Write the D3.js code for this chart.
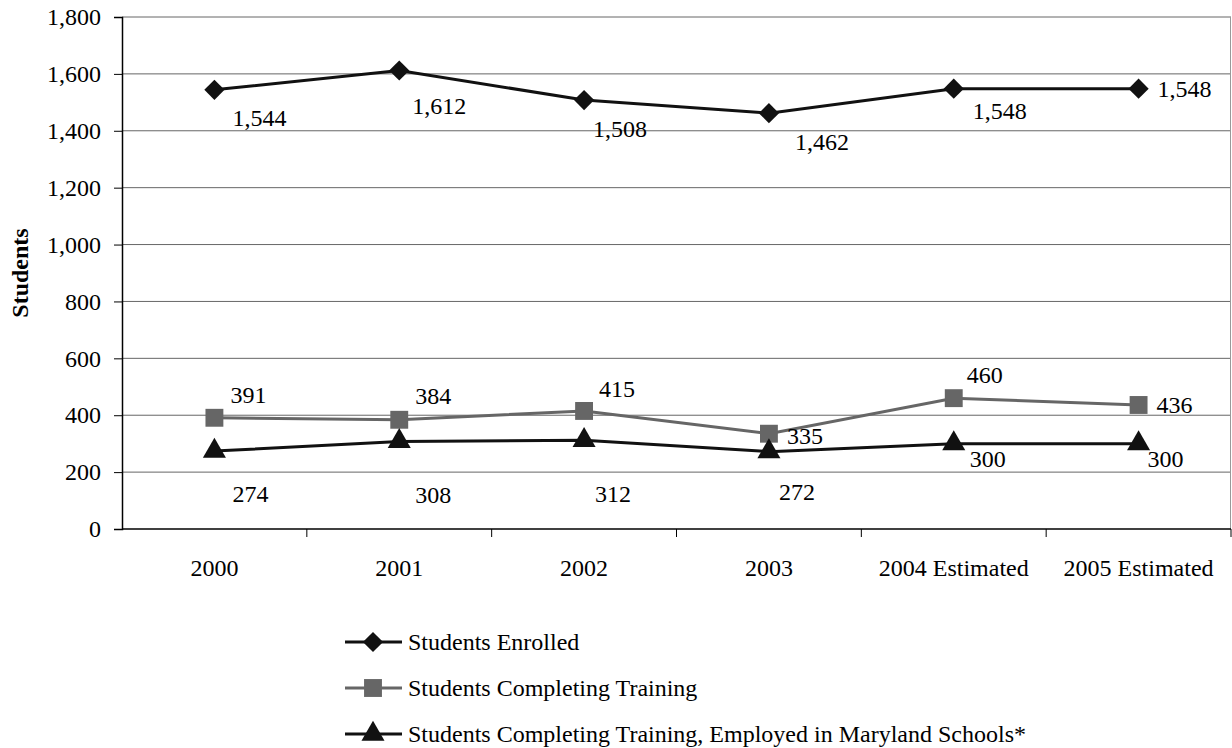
<!DOCTYPE html>
<html>
<head>
<meta charset="utf-8">
<script src="https://cdn.jsdelivr.net/npm/d3@7"></script>
<style>
  body { margin: 0; background: #fff; }
  svg { display: block; font-family: "Liberation Serif", "Times New Roman", serif; }
</style>
</head>
<body>
<div id="chart"></div>
<script>
// chart data
var years = ["2000", "2001", "2002", "2003", "2004 Estimated", "2005 Estimated"];
var enrolled = [1544, 1612, 1508, 1462, 1548, 1548];
var completing = [391, 384, 415, 335, 460, 436];
var employed = [274, 308, 312, 272, 300, 300];
var yTicks = [0, 200, 400, 600, 800, 1000, 1200, 1400, 1600, 1800];
var seriesNames = ["Students Enrolled", "Students Completing Training",
    "Students Completing Training, Employed in Maryland Schools*"];

// where each data label sits relative to its point (label centre)
var enrolledLabelPos = [[45, 28], [40, 35], [36, 29], [53, 28], [46, 22], [46, 0]];
var completingLabelPos = [[34, -23], [34, -24], [33, -22], [36, 2], [31, -24], [36, 0]];
var employedLabelPos = [[36, 43], [34, 53], [29, 53], [28, 40], [34, 15], [27, 15]];

var width = 1232, height = 748,
    margins = {top: 17, left: 122, right: 1, bottom: 219},
    serif = "Liberation Serif, Times New Roman, serif";

var svg = d3.select("#chart").append("svg")
    .attr("width", width)
    .attr("height", height);

var x = d3.scaleBand().domain(years).range([margins.left, width - margins.right]).padding(0);
var y = d3.scaleLinear().domain([0, 1800]).range([height - margins.bottom, margins.top]);

function cx(i) { return x(years[i]) + x.bandwidth() / 2; }

// gridlines
svg.append("g").attr("class", "grid")
    .selectAll("line")
    .data(yTicks.filter(function (d) { return d > 0; }))
    .enter().append("line")
    .attr("x1", margins.left).attr("x2", width - margins.right)
    .attr("y1", function (d) { return y(d); })
    .attr("y2", function (d) { return y(d); })
    .attr("stroke", "#666")
    .attr("stroke-width", 1);

svg.append("line")
    .attr("x1", width - margins.right - 0.5).attr("x2", width - margins.right - 0.5)
    .attr("y1", y(1800)).attr("y2", y(0))
    .attr("stroke", "#999");

// axes
var yAxis = d3.axisLeft(y).tickValues(yTicks).tickSize(8).tickPadding(13)
    .tickFormat(d3.format(","));
var yG = svg.append("g")
    .attr("transform", "translate(" + margins.left + ",0)")
    .call(yAxis);
yG.select(".domain").attr("stroke", "#000").attr("stroke-width", 1.5);
yG.selectAll(".tick line").attr("stroke", "#000");
yG.selectAll("text").attr("font-size", 24).attr("fill", "#000")
    .attr("font-family", serif);

var xAxis = d3.axisBottom(x).tickSize(0).tickPadding(30);
var xG = svg.append("g")
    .attr("transform", "translate(0," + y(0) + ")")
    .call(xAxis);
xG.select(".domain").remove();
xG.selectAll("text").attr("font-size", 24).attr("fill", "#000")
    .attr("font-family", serif);

svg.append("line")
    .attr("x1", margins.left).attr("x2", width - margins.right)
    .attr("y1", y(0)).attr("y2", y(0))
    .attr("stroke", "#000").attr("stroke-width", 1.5);

// category separator ticks
svg.append("g").selectAll("line")
    .data(years)
    .enter().append("line")
    .attr("x1", function (d) { return x(d) + x.bandwidth(); })
    .attr("x2", function (d) { return x(d) + x.bandwidth(); })
    .attr("y1", y(0)).attr("y2", y(0) + 8)
    .attr("stroke", "#000");

svg.append("text")
    .attr("transform", "translate(20," + (y(900)) + ") rotate(-90)")
    .attr("text-anchor", "middle")
    .attr("dy", "0.35em")
    .attr("font-size", 24)
    .attr("font-weight", "bold")
    .text("Students");

// marker shapes
var diamond = d3.symbol().type(d3.symbolDiamond2).size(260);
var square = d3.symbol().type(d3.symbolSquare).size(320);
var triangle = d3.symbol().type(d3.symbolTriangle).size(230);

var series = [
    {values: enrolled, color: "#111", symbol: diamond, labels: enrolledLabelPos},
    {values: completing, color: "#666", symbol: square, labels: completingLabelPos},
    {values: employed, color: "#111", symbol: triangle, labels: employedLabelPos}
];

var line = d3.line()
    .x(function (d, i) { return cx(i); })
    .y(function (d) { return y(d); });

series.forEach(function (s) {
    var g = svg.append("g");
    g.append("path")
        .attr("d", line(s.values))
        .attr("fill", "none")
        .attr("stroke", s.color)
        .attr("stroke-width", 3);
    g.selectAll("path.marker")
        .data(s.values)
        .enter().append("path")
        .attr("class", "marker")
        .attr("d", s.symbol)
        .attr("transform", function (d, i) { return "translate(" + cx(i) + "," + y(d) + ")"; })
        .attr("fill", s.color);
    g.selectAll("text")
        .data(s.values)
        .enter().append("text")
        .attr("x", function (d, i) { return cx(i) + s.labels[i][0]; })
        .attr("y", function (d, i) { return y(d) + s.labels[i][1]; })
        .attr("dy", "0.35em")
        .attr("text-anchor", "middle")
        .attr("font-size", 24)
        .text(function (d) { return d3.format(",")(d); });
});

// legend
var legend = svg.append("g").attr("transform", "translate(345,642)");
series.forEach(function (s, i) {
    var row = legend.append("g").attr("transform", "translate(0," + (i * 46) + ")");
    row.append("line")
        .attr("x1", 0).attr("x2", 57)
        .attr("stroke", s.color).attr("stroke-width", 3);
    row.append("path")
        .attr("d", s.symbol)
        .attr("transform", "translate(28,0)")
        .attr("fill", s.color);
    row.append("text")
        .attr("x", 63)
        .attr("dy", "0.35em")
        .attr("font-size", 24)
        .text(seriesNames[i]);
});
</script>
</body>
</html>
